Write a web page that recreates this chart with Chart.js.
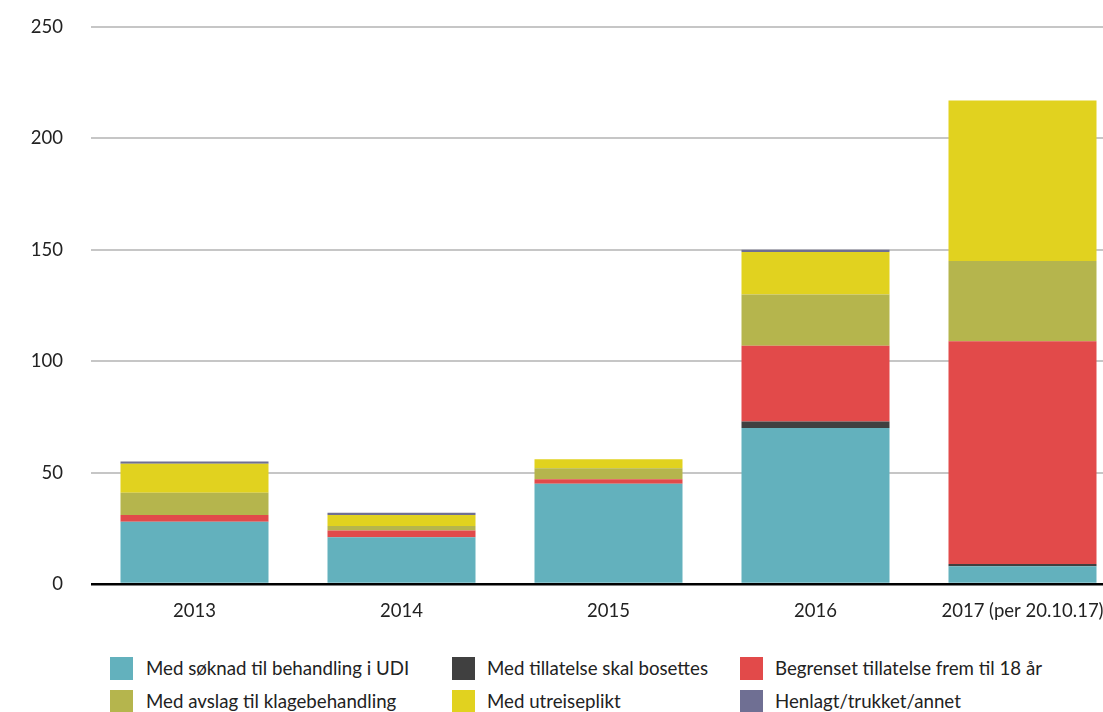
<!DOCTYPE html>
<html>
<head>
<meta charset="utf-8">
<script src="https://cdn.jsdelivr.net/npm/chart.js@4"></script>
<style>
  html, body { margin: 0; padding: 0; background: #fff; overflow: hidden; width: 1103px; height: 712px; }
  #wrap { position: absolute; left: 0; top: -12px; width: 1126px; height: 652px; }
  .leg { position: absolute; font-family: Lato, "Noto Sans", sans-serif; font-size: 18.7px; color: #222; white-space: nowrap; }
  .box { position: absolute; width: 23px; height: 23px; }
  .lt { position: absolute; line-height: 23px; }
</style>
</head>
<body>
<div id="wrap"><canvas id="c"></canvas></div>
<div id="legend"></div>
<script>
const categories = ['2013', '2014', '2015', '2016', '2017 (per 20.10.17)'];
const udi        = [28, 21, 45, 70, 8];
const bosettes   = [0, 0, 0, 3, 1];
const begrenset  = [3, 3, 2, 34, 100];
const avslag     = [10, 2, 5, 23, 36];
const utreise    = [13, 5, 4, 19, 72];
const henlagt    = [1, 1, 0, 1, 0];
const yTicks     = [0, 50, 100, 150, 200, 250];

const seriesNames = ['Med søknad til behandling i UDI', 'Med tillatelse skal bosettes', 'Begrenset tillatelse frem til 18 år',
                     'Med avslag til klagebehandling', 'Med utreiseplikt', 'Henlagt/trukket/annet'];
const seriesData = [udi, bosettes, begrenset, avslag, utreise, henlagt];
const colors = ['#63b1bd', '#404040', '#e24a4a', '#b5b54d', '#e1d21f', '#6f6f93'];

const FONT = 'Lato, "Noto Sans", sans-serif';

new Chart(document.getElementById('c'), {
  type: 'bar',
  data: {
    labels: categories,
    datasets: seriesNames.map((n, i) => ({
      label: n, data: seriesData[i], backgroundColor: colors[i], borderWidth: 0,
      categoryPercentage: 1.0, barPercentage: 0.715
    }))
  },
  options: {
    responsive: true, maintainAspectRatio: false, animation: false,
    layout: { padding: { top: 4, right: 0, left: 0, bottom: 0 } },
    plugins: { legend: { display: false }, tooltip: { enabled: false } },
    scales: {
      x: {
        stacked: true,
        grid: { display: false, drawTicks: false },
        border: { display: false },
        ticks: { color: '#222', font: { family: FONT, size: 18.5 }, padding: 16, maxRotation: 0, autoSkip: false },
        afterFit: s => { s.height = 56; }
      },
      y: {
        stacked: true, min: 0, max: 250,
        afterBuildTicks: s => { s.ticks = yTicks.map(v => ({ value: v })); },
        grid: {
          drawTicks: false,
          lineWidth: c => c.tick && c.tick.value === 0 ? 2.5 : 2,
          color: c => c.tick && c.tick.value === 0 ? '#000' : '#c6c6c6'
        },
        border: { display: false },
        ticks: { color: '#222', font: { family: FONT, size: 18.5 }, padding: 28 },
        afterFit: s => { s.width = 91; }
      }
    }
  }
});

const legX = [[110, 146], [452, 487], [740, 775]];
const legY = [657, 690];
const leg = document.getElementById('legend');
seriesNames.forEach((n, i) => {
  const col = i % 3, row = Math.floor(i / 3);
  const b = document.createElement('div');
  b.className = 'box'; b.style.left = legX[col][0] + 'px'; b.style.top = legY[row] + 'px'; b.style.background = colors[i];
  const t = document.createElement('div');
  t.className = 'leg lt'; t.style.left = legX[col][1] + 'px'; t.style.top = legY[row] + 'px'; t.textContent = n;
  leg.appendChild(b); leg.appendChild(t);
});
</script>
</body>
</html>
